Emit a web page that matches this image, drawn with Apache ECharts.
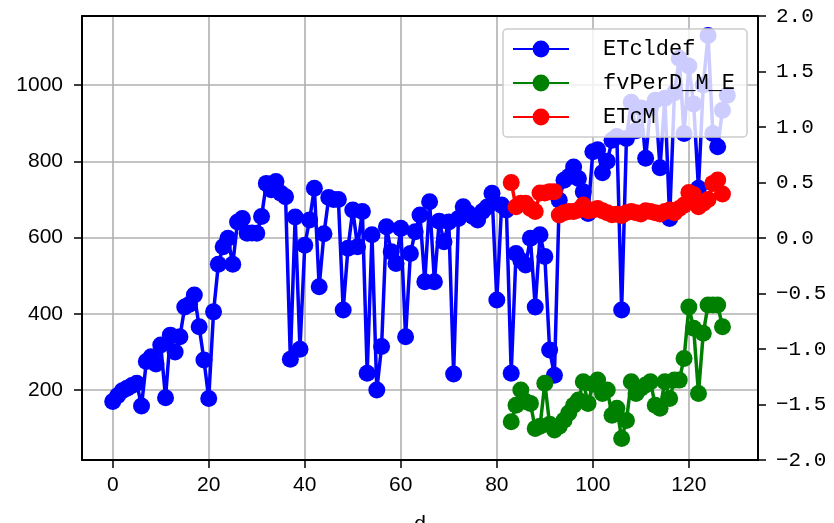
<!DOCTYPE html>
<html><head><meta charset="utf-8">
<script src="https://cdn.jsdelivr.net/npm/echarts@6/dist/echarts.min.js"></script>
<style>html,body{margin:0;padding:0;background:#fff}#c{width:834px;height:523px}</style>
</head><body><div id="c"></div>
<script>
// ETcldef, d = 0..128
const etcldef = [170,185,198,205,212,218,158,275,287,268,318,180,344,300,340,418,425,449,366,279,
178,405,530,576,598,530,641,650,611,612,611,655,742,725,747,716,707,281,654,307,
580,646,729,471,610,705,700,700,410,572,672,576,668,244,607,200,314,628,563,532,
624,340,558,615,659,484,694,484,643,589,641,242,650,681,665,655,646,668,680,716,
436,685,672,244,558,540,528,598,418,607,550,305,239,698,750,760,785,755,720,663,
825,830,770,800,855,865,410,860,955,880,940,808,940,960,783,965,650,980,1070,873,
1050,950,729,1000,1130,873,838,934,973];
// fvPerD_M_E, d = 83..127
const fvStart = 83;
const fvPerD = [117,160,200,170,165,99,105,218,110,95,105,121,140,160,174,222,165,215,226,191,
200,134,152,73,120,222,191,205,213,222,160,152,222,178,226,226,283,418,362,191,
349,423,423,423,366];
// ETcM, d = 83..127
const etcmStart = 83;
const etcm = [744,681,690,690,676,668,717,717,720,720,659,665,668,668,672,685,670,672,676,670,
665,660,661,658,665,668,665,662,670,668,665,662,668,672,665,676,685,718,712,681,
690,700,742,751,714];
const xTicks = [0,20,40,60,80,100,120];
const yTicks = [200,400,600,800,1000];
const names = ['ETcldef','fvPerD_M_E','ETcM'];

const toPts = (arr, start) => arr.map((v,i)=>[start+i, v]);
const lblFont = {fontFamily:'Liberation Sans', fontSize:21, color:'#000'};
const gridLine = {show:true, lineStyle:{color:'#b0b0b0', width:1.6}};
const spine = {show:true, onZero:false, lineStyle:{color:'#000', width:2}};
function mk(name, color, data){
  return {name, type:'line', data, xAxisIndex:0, yAxisIndex:0,
    symbol:'circle', symbolSize:17, showAllSymbol:true,
    itemStyle:{color}, lineStyle:{color, width:3.5}};
}
const chart = echarts.init(document.getElementById('c'));
chart.setOption({
  animation:false,
  backgroundColor:'#fff',
  grid:{left:82, right:76, top:16, bottom:63, containLabel:false, outerBoundsMode:'none'},
  legend:{
    data:names, orient:'vertical', left:503, top:29,
    itemWidth:56, itemHeight:21, itemGap:12,
    padding:[9,12,9,9],
    backgroundColor:'rgba(255,255,255,0.8)', borderColor:'#cccccc', borderWidth:1.5, borderRadius:4,
    textStyle:{fontFamily:'Liberation Mono', fontSize:22, color:'#000', padding:[0,0,0,29]}
  },
  xAxis:[{
    type:'value', min:-6.4, max:134.4, position:'bottom',
    name:'d', nameLocation:'middle', nameGap:54,
    nameTextStyle:{fontFamily:'Liberation Sans', fontSize:21, color:'#000'},
    axisLine:spine,
    axisTick:{show:true, customValues:xTicks, length:8, lineStyle:{color:'#000', width:1.5}},
    axisLabel:Object.assign({customValues:xTicks, margin:15}, lblFont),
    splitLine:gridLine
  },{
    type:'value', min:-6.4, max:134.4, position:'top',
    axisLine:spine, axisTick:{show:false}, axisLabel:{show:false}, splitLine:{show:false}
  }],
  yAxis:[{
    type:'value', min:16.5, max:1181, position:'left',
    axisLine:spine,
    axisTick:{show:true, customValues:yTicks, length:8, lineStyle:{color:'#000', width:1.5}},
    axisLabel:Object.assign({customValues:yTicks, margin:19, formatter:v=>String(v)}, lblFont),
    splitLine:gridLine
  },{
    type:'value', min:-2, max:2, interval:0.5, position:'right',
    axisLine:spine,
    axisTick:{show:true, length:8, lineStyle:{color:'#000', width:1.5}},
    axisLabel:{margin:18, fontFamily:'Liberation Mono', fontSize:21, color:'#000',
      formatter:v=>(v<0?'\u2212':'')+Math.abs(v).toFixed(1)},
    splitLine:{show:false}
  }],
  series:[
    mk(names[0], '#0000ff', toPts(etcldef, 0)),
    mk(names[1], '#008000', toPts(fvPerD, fvStart)),
    mk(names[2], '#ff0000', toPts(etcm, etcmStart))
  ]
});
</script></body></html>
